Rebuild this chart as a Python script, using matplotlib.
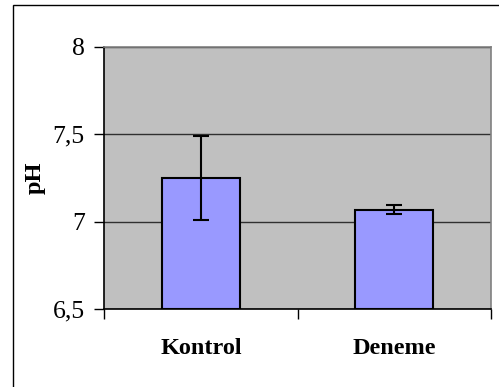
import matplotlib
matplotlib.use("Agg")
import matplotlib.pyplot as plt
from matplotlib.patches import Rectangle
from matplotlib.ticker import FuncFormatter

categories = ["Kontrol", "Deneme"]
values = [7.25, 7.07]
errors = [0.24, 0.023]
yticks = [6.5, 7.0, 7.5, 8.0]

plt.rcParams['font.family'] = ['Liberation Serif', 'DejaVu Serif']

W, H = 499, 387
fig = plt.figure(figsize=(W / 100, H / 100), dpi=100)
fig.patch.set_facecolor('white')

# outer frame (right/bottom edges outside the image)
fig.patches.append(Rectangle((13 / W, -0.1), 1.2, 1 - 4.7 / H + 0.1,
                             transform=fig.transFigure, fill=False,
                             edgecolor='black', linewidth=1.0))

left, right, top, bottom = 104.3, 490.7, 46.7, 309.3
ax = fig.add_axes([left / W, 1 - bottom / H, (right - left) / W, (bottom - top) / H])
ax.set_facecolor('#C0C0C0')

x = list(range(len(categories)))
ax.set_axisbelow(True)
ax.yaxis.grid(True, color='#303030', linewidth=1.0)
ax.bar(x, [v - 6.5 for v in values], bottom=6.5, width=0.4, color='#9999FF',
       edgecolor='black', linewidth=1.5, zorder=2)
ax.errorbar(x, values, yerr=errors, fmt='none', ecolor='black', elinewidth=1.5,
            capsize=5.5, capthick=1.5, zorder=3)

ax.set_xlim(-0.5, 1.5)
ax.set_ylim(6.5, 8.0)
ax.set_yticks(yticks)
ax.yaxis.set_major_formatter(FuncFormatter(lambda v, p: ('%g' % v).replace('.', ',')))
ax.tick_params(axis='y', length=7, width=1, pad=7, labelsize=18.5, direction='out')

ax.set_xticks([-0.5, 0.5, 1.5], minor=False)
ax.set_xticklabels(['', '', ''])
ax.set_xticks(x, minor=True)
ax.set_xticklabels(categories, minor=True, fontweight='bold', fontsize=17.5)
ax.tick_params(axis='x', which='major', length=7, width=1, direction='out')
ax.tick_params(axis='x', which='minor', length=0, pad=21)

ax.set_ylabel('pH', fontweight='bold', fontsize=17.5, labelpad=5)

for s in ['left', 'bottom']:
    ax.spines[s].set_color('black')
    ax.spines[s].set_linewidth(1.2)
for s in ['top', 'right']:
    ax.spines[s].set_color('#808080')
    ax.spines[s].set_linewidth(1.2)

fig.savefig('out.png', dpi=100)
